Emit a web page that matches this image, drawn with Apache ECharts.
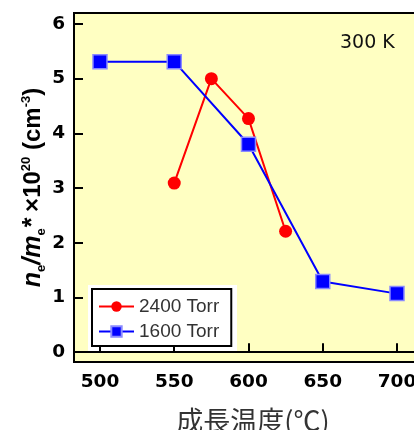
<!DOCTYPE html>
<html><head><meta charset="utf-8">
<script src="https://cdn.jsdelivr.net/npm/echarts@6/dist/echarts.min.js"></script>
<style>html,body{margin:0;padding:0;background:#fff}#c{width:414px;height:430px}</style>
</head><body><div id="c"></div>
<script>
const redX = [550, 575, 600, 625];
const redY = [3.09, 5.0, 4.27, 2.21];
const blueX = [500, 550, 600, 650, 700];
const blueY = [5.31, 5.31, 3.80, 1.29, 1.07];
const xTicks = [500, 550, 600, 650, 700];
const yTicks = [0, 1, 2, 3, 4, 5, 6];
const seriesNames = ['2400 Torr', '1600 Torr'];

const chart = echarts.init(document.getElementById('c'));
const F = 'Liberation Sans, Arial, sans-serif';
const D = 'DejaVu Sans, sans-serif';
chart.setOption({
  animation: false,
  grid: {left: 74, top: 13, right: -2, bottom: 68, outerBoundsMode: 'none', containLabel: false, show: true, backgroundColor: '#FFFFC2', borderColor: '#000', borderWidth: 2},
  xAxis: {
    type: 'value', min: 482.5, max: 712.8,
    axisLine: {show: true, lineStyle: {color: '#000', width: 2}},
    axisTick: {show: true, inside: true, length: 9, customValues: xTicks, lineStyle: {color: '#000', width: 2}},
    axisLabel: {customValues: xTicks, fontFamily: D, fontSize: 18.5, fontWeight: 'bold', color: '#000', margin: 11},
    splitLine: {show: false},
    name: '成長温度(℃)', nameLocation: 'middle', nameGap: 45, nameMoveOverlap: false,
    nameTextStyle: {fontFamily: 'Noto Sans CJK JP', fontSize: 27, color: '#333', padding: [0, 0, 0, 16]}
  },
  yAxis: {
    type: 'value', min: -0.18, max: 6.2,
    axisLine: {show: true, lineStyle: {color: '#000', width: 2}},
    axisTick: {show: true, inside: true, length: 9, customValues: yTicks, lineStyle: {color: '#000', width: 2}},
    axisLabel: {customValues: yTicks, fontFamily: D, fontSize: 18.5, fontWeight: 'bold', color: '#000', margin: 9},
    splitLine: {show: false},
    name: '{bi|n}{sub|e}{bi|/m}{sub|e}{bi|*} {b|×10}{sup|20}{b| (cm}{sup|-3}{b|)}',
    nameLocation: 'middle', nameGap: 25, nameRotate: 90, nameMoveOverlap: false,
    nameTextStyle: {
      fontFamily: F, fontSize: 24, fontWeight: 'bold', color: '#000', padding: [0, 0, 0, 0],
      rich: {
        bi: {fontFamily: F, fontSize: 25, fontWeight: 'bold', fontStyle: 'italic', color: '#000', lineHeight: 32, verticalAlign: 'middle'},
        b: {fontFamily: F, fontSize: 24, fontWeight: 'bold', color: '#000', lineHeight: 32, verticalAlign: 'middle'},
        sub: {fontFamily: F, fontSize: 13, color: '#000', lineHeight: 32, verticalAlign: 'bottom', padding: [0, 0, 1, 0]},
        sup: {fontFamily: F, fontSize: 13, color: '#000', lineHeight: 32, verticalAlign: 'top', padding: [3, 0, 0, 0]}
      }
    }
  },
  legend: {
    orient: 'vertical', left: 92, top: 289, data: seriesNames,
    backgroundColor: '#fff', borderColor: '#000', borderWidth: 2, borderRadius: 0,
    padding: [8, 12, 5, 6], itemGap: 6, itemWidth: 35, itemHeight: 13,
    textStyle: {fontFamily: F, fontSize: 19, color: '#333'}
  },
  graphic: [
    {type: 'rect', left: 88, top: 285, shape: {width: 149, height: 66}, style: {fill: '#fff'}, z: 0},
    {type: 'text', left: 340, top: 34, style: {text: '300 K', font: '19px DejaVu Sans', fill: '#111'}, z: 10}
  ],
  series: [
    {name: seriesNames[0], type: 'line', data: redX.map((x, i) => [x, redY[i]]),
     symbol: 'circle', symbolSize: 13, lineStyle: {color: '#f00', width: 2}, itemStyle: {color: '#f00'}, z: 3},
    {name: seriesNames[1], type: 'line', data: blueX.map((x, i) => [x, blueY[i]]),
     symbol: 'rect', symbolSize: 14, lineStyle: {color: '#0000ff', width: 2},
     itemStyle: {color: '#0000ff', borderColor: '#8a8aff', borderWidth: 1.5}, z: 4}
  ]
});
</script></body></html>
